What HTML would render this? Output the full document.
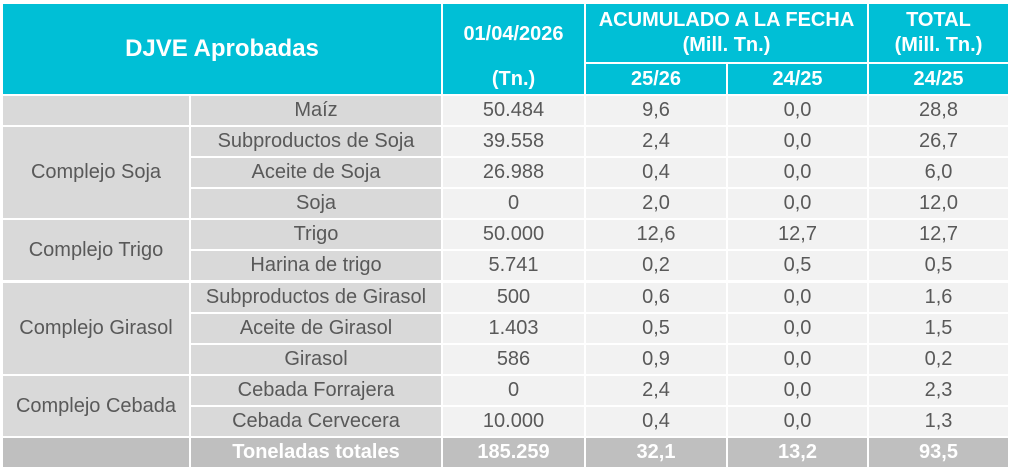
<!DOCTYPE html>
<html><head><meta charset="utf-8"><style>
body{margin:0;width:1011px;height:467px;background:#fff;position:relative;overflow:hidden;font-family:"Liberation Sans",sans-serif;}
.c{position:absolute;display:flex;align-items:center;justify-content:center;text-align:center;color:#595959;font-size:20px;box-sizing:border-box;white-space:nowrap;}
.h{background:#00bfd6;color:#fff;font-size:20px;font-weight:bold;}
.g{background:#d9d9d9;}
.n{background:#f2f2f2;}
.t{background:#bfbfbf;color:#fff;font-size:20px;font-weight:bold;}
.a{left:191px;width:250px;height:29px}
.b{left:443px;width:141px;height:29px}
.d{left:586px;width:140px;height:29px}
.e{left:728px;width:139px;height:29px}
.f{left:869px;width:139px;height:29px}
</style></head><body>
<div class="c h" style="left:3px;top:4px;width:438px;height:90px;font-size:24px;font-weight:bold">DJVE Aprobadas</div>
<div class="c h" style="left:443px;top:4px;width:141px;height:60px;">01/04/2026</div>
<div class="c h" style="left:443px;top:64px;width:141px;height:30px;">(Tn.)</div>
<div class="c h" style="left:586px;top:4px;width:281px;height:58px;line-height:25px">ACUMULADO A LA FECHA<br>(Mill. Tn.)</div>
<div class="c h" style="left:586px;top:64px;width:140px;height:30px;">25/26</div>
<div class="c h" style="left:728px;top:64px;width:139px;height:30px;">24/25</div>
<div class="c h" style="left:869px;top:4px;width:139px;height:58px;line-height:25px">TOTAL<br>(Mill. Tn.)</div>
<div class="c h" style="left:869px;top:64px;width:139px;height:30px;">24/25</div>

<div class="c g" style="left:3px;top:96px;width:186px;height:29px"></div>
<div class="c g" style="left:3px;top:127px;width:186px;height:91px">Complejo Soja</div>
<div class="c g" style="left:3px;top:220px;width:186px;height:60px">Complejo Trigo</div>
<div class="c g" style="left:3px;top:283px;width:186px;height:91px">Complejo Girasol</div>
<div class="c g" style="left:3px;top:376px;width:186px;height:60px">Complejo Cebada</div>

<div class="c g a" style="top:96px">Maíz</div><div class="c n b" style="top:96px">50.484</div><div class="c n d" style="top:96px">9,6</div><div class="c n e" style="top:96px">0,0</div><div class="c n f" style="top:96px">28,8</div>
<div class="c g a" style="top:127px">Subproductos de Soja</div><div class="c n b" style="top:127px">39.558</div><div class="c n d" style="top:127px">2,4</div><div class="c n e" style="top:127px">0,0</div><div class="c n f" style="top:127px">26,7</div>
<div class="c g a" style="top:158px">Aceite de Soja</div><div class="c n b" style="top:158px">26.988</div><div class="c n d" style="top:158px">0,4</div><div class="c n e" style="top:158px">0,0</div><div class="c n f" style="top:158px">6,0</div>
<div class="c g a" style="top:189px">Soja</div><div class="c n b" style="top:189px">0</div><div class="c n d" style="top:189px">2,0</div><div class="c n e" style="top:189px">0,0</div><div class="c n f" style="top:189px">12,0</div>
<div class="c g a" style="top:220px">Trigo</div><div class="c n b" style="top:220px">50.000</div><div class="c n d" style="top:220px">12,6</div><div class="c n e" style="top:220px">12,7</div><div class="c n f" style="top:220px">12,7</div>
<div class="c g a" style="top:251px">Harina de trigo</div><div class="c n b" style="top:251px">5.741</div><div class="c n d" style="top:251px">0,2</div><div class="c n e" style="top:251px">0,5</div><div class="c n f" style="top:251px">0,5</div>
<div class="c g a" style="top:283px">Subproductos de Girasol</div><div class="c n b" style="top:283px">500</div><div class="c n d" style="top:283px">0,6</div><div class="c n e" style="top:283px">0,0</div><div class="c n f" style="top:283px">1,6</div>
<div class="c g a" style="top:314px">Aceite de Girasol</div><div class="c n b" style="top:314px">1.403</div><div class="c n d" style="top:314px">0,5</div><div class="c n e" style="top:314px">0,0</div><div class="c n f" style="top:314px">1,5</div>
<div class="c g a" style="top:345px">Girasol</div><div class="c n b" style="top:345px">586</div><div class="c n d" style="top:345px">0,9</div><div class="c n e" style="top:345px">0,0</div><div class="c n f" style="top:345px">0,2</div>
<div class="c g a" style="top:376px">Cebada Forrajera</div><div class="c n b" style="top:376px">0</div><div class="c n d" style="top:376px">2,4</div><div class="c n e" style="top:376px">0,0</div><div class="c n f" style="top:376px">2,3</div>
<div class="c g a" style="top:407px">Cebada Cervecera</div><div class="c n b" style="top:407px">10.000</div><div class="c n d" style="top:407px">0,4</div><div class="c n e" style="top:407px">0,0</div><div class="c n f" style="top:407px">1,3</div>

<div class="c t" style="left:3px;top:438px;width:186px;height:29px"></div>
<div class="c t a" style="top:438px">Toneladas totales</div><div class="c t b" style="top:438px">185.259</div><div class="c t d" style="top:438px">32,1</div><div class="c t e" style="top:438px">13,2</div><div class="c t f" style="top:438px">93,5</div>
</body></html>
